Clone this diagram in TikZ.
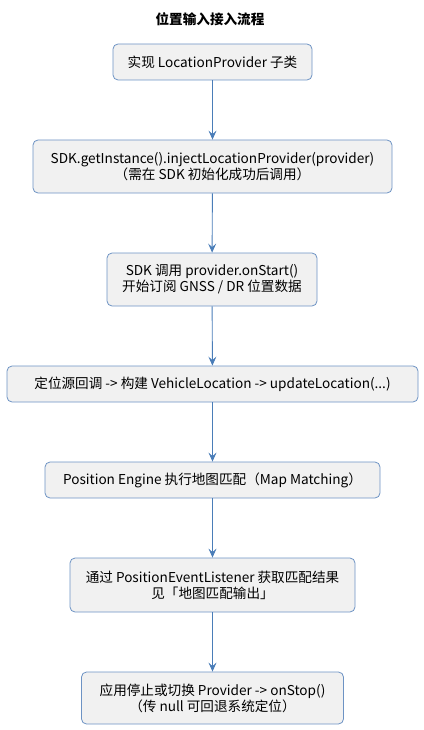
\documentclass[tikz,border=0pt]{standalone}
\usepackage{fontspec}
\setmainfont{Noto Sans CJK SC}
\usepackage{tikz}
\usetikzlibrary{arrows.meta}
\definecolor{boxfill}{HTML}{F1F1F1}
\definecolor{boxline}{HTML}{6D93C4}
\definecolor{flowline}{HTML}{4A7DB8}

\begin{document}
\begin{tikzpicture}[x=1pt,y=-1pt,
    stepbox/.style={draw=boxline,fill=boxfill,rounded corners=5pt,line width=0.8pt,
        align=center,inner sep=0pt,font=\fontsize{13.6}{16}\selectfont},
    flow/.style={draw=flowline,line width=0.9pt,-{Stealth[length=9pt,width=8pt,inset=3.5pt]}}]
            \useasboundingbox (0,0) rectangle (423,730);
            \node[font=\bfseries\fontsize{13.6}{15}\selectfont] (title) at (210,19) {位置输入接入流程};

            \node[stepbox,minimum width=199pt,minimum height=36pt] (impl) at (212.5,62) {实现 LocationProvider 子类};
            \node[stepbox,minimum width=359pt,minimum height=53pt] (inject) at (212.5,166.5)
                {SDK.getInstance().injectLocationProvider(provider)\\（需在 SDK 初始化成功后调用）};
            \node[stepbox,minimum width=210pt,minimum height=53pt] (start) at (212,279.5)
                {SDK 调用 provider.onStart()\\开始订阅 GNSS / DR 位置数据};
            \node[stepbox,minimum width=411pt,minimum height=36pt] (update) at (212.5,384)
                {定位源回调 -> 构建 VehicleLocation -> updateLocation(...)};
            \node[stepbox,minimum width=335pt,minimum height=36pt] (match) at (212.5,480)
                {Position Engine 执行地图匹配（Map Matching）};
            \node[stepbox,minimum width=285pt,minimum height=54pt] (listen) at (212.5,585)
                {通过 PositionEventListener 获取匹配结果\\见「地图匹配输出」};
            \node[stepbox,minimum width=262pt,minimum height=52pt] (stop) at (212.5,698)
                {应用停止或切换 Provider -> onStop()\\（传 null 可回退系统定位）};

            \draw[flow] (impl) -- (inject);
            \draw[flow] (inject) -- (start);
            \draw[flow] (start) -- (update);
            \draw[flow] (update) -- (match);
            \draw[flow] (match) -- (listen);
            \draw[flow] (listen) -- (stop);
        \end{tikzpicture}
\end{document}
